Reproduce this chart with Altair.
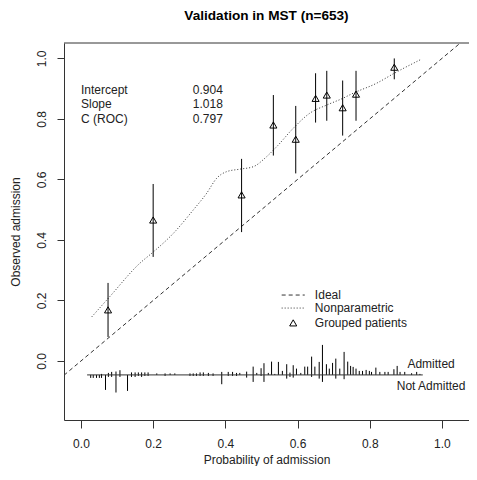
import altair as alt
import pandas as pd

FONT = "Liberation Sans"
INK = "#222222"
LINE = "#333333"

# ---- data ----
grp_x = [0.075, 0.200, 0.445, 0.533, 0.595, 0.650, 0.681, 0.725, 0.762, 0.868]
grp_y = [0.169, 0.466, 0.549, 0.780, 0.733, 0.868, 0.879, 0.837, 0.882, 0.971]
grp_lo = [0.079, 0.344, 0.426, 0.679, 0.620, 0.788, 0.794, 0.745, 0.794, 0.931]
grp_hi = [0.258, 0.585, 0.668, 0.879, 0.843, 0.951, 0.959, 0.927, 0.959, 1.000]

np_x = [0.030, 0.080, 0.163, 0.200, 0.256, 0.311, 0.348, 0.376, 0.404, 0.440,
        0.477, 0.514, 0.542, 0.588, 0.634, 0.681, 0.725, 0.754, 0.819, 0.868, 0.944]
np_y = [0.146, 0.213, 0.323, 0.360, 0.422, 0.499, 0.554, 0.604, 0.626, 0.634,
        0.642, 0.675, 0.708, 0.769, 0.819, 0.846, 0.868, 0.885, 0.918, 0.951, 0.998]

ideal_x = [-0.047, 1.051]
ideal_y = [-0.047, 1.051]

spike_x = [0.027, 0.034, 0.043, 0.051, 0.057, 0.068, 0.076, 0.085, 0.097, 0.108,
           0.129, 0.140, 0.150, 0.159, 0.168, 0.177, 0.186, 0.210, 0.233, 0.247,
           0.260, 0.302, 0.311, 0.320, 0.330, 0.339, 0.353, 0.366, 0.390, 0.408,
           0.420, 0.431, 0.440, 0.459, 0.477, 0.487, 0.499, 0.507, 0.519, 0.528,
           0.537, 0.547, 0.558, 0.570, 0.579, 0.588, 0.597, 0.609, 0.620, 0.628,
           0.639, 0.648, 0.660, 0.669, 0.680, 0.688, 0.697, 0.706, 0.717, 0.729,
           0.739, 0.747, 0.754, 0.762, 0.771, 0.780, 0.790, 0.799, 0.805, 0.817,
           0.828, 0.842, 0.851, 0.867, 0.876, 0.884, 0.897, 0.916, 0.930, 0.939]
spike_up = [0, 0, 0, 0, 1, 0, 2, 3, 3.4, 4.7,
            0, 2.5, 2.5, 2.5, 2.5, 2.5, 2.5, 1.5, 1.5, 1.5,
            1.5, 1.5, 1.5, 1.5, 2.5, 2.5, 2, 1.5, 3, 3,
            3, 2, 2, 3.3, 8.3, 2, 6.7, 11.7, 2, 13.3,
            1, 13, 4, 10.7, 2.3, 9.7, 6.3, 2, 8.3, 8.3,
            18.3, 8.3, 13, 30, 10.7, 6.3, 12, 16.3, 6.3, 23,
            13.3, 9, 8, 6.3, 4, 4, 5, 4, 3, 7.3,
            3, 3, 3, 5.7, 9, 3, 3, 1.7, 3, 1]
spike_dn = [3, 3, 3, 3, 3, 15, 2, 2, 17.6, 2,
            16, 2, 2, 1, 2, 1, 1, 0, 1, 0,
            0, 1, 1, 1, 1, 1, 1, 1, 9.3, 1,
            1, 1, 0, 2.7, 7, 0, 1, 7, 0, 0,
            0, 0, 0, 3.7, 2, 2.7, 0, 0, 0, 0,
            2, 0, 3.7, 7, 0, 0, 0, 3.7, 0, 4.3,
            0, 0, 0, 0, 0, 0, 0, 0, 0, 0,
            0, 0, 0, 0, 0, 0, 0, 0, 0, 0]
SPIKE_UNIT = 1 / 302.5
SPIKE_BASE = -0.046
spike_range = [0.017, 0.947]

stat_labels = ["Intercept", "Slope", "C (ROC)"]
stat_values = ["0.904", "1.018", "0.797"]
stat_y = [0.896, 0.849, 0.800]
STAT_LABEL_X = 0.0
STAT_VALUE_X = 0.31

legend_labels = ["Ideal", "Nonparametric", "Grouped patients"]
legend_y = [0.218, 0.175, 0.126]
LEG_X0, LEG_X1, LEG_TEXT_X = 0.556, 0.620, 0.648

hist_labels = ["Admitted", "Not Admitted"]
hist_label_y = [-0.011, -0.083]
HIST_LABEL_X = 0.97

x_ticks = [0.0, 0.2, 0.4, 0.6, 0.8, 1.0]
y_ticks = [0.0, 0.2, 0.4, 0.6, 0.8, 1.0]

X_DOMAIN = [-0.047, 1.075]
Y_DOMAIN = [-0.195, 1.051]

W, H = 405, 377
xs = alt.Scale(domain=X_DOMAIN, nice=False, zero=False)
ys = alt.Scale(domain=Y_DOMAIN, nice=False, zero=False)

x_axis = alt.Axis(values=x_ticks, format=".1f", title="Probability of admission",
                  grid=False, tickSize=8, labelBaseline="alphabetic", labelPadding=19.5,
                  titleBaseline="alphabetic", titleY=43)
y_axis = alt.Axis(values=y_ticks, format=".1f", title="Observed admission",
                  grid=False, tickSize=7, labelAngle=270, labelAlign="center",
                  labelBaseline="alphabetic", labelPadding=12,
                  titleAngle=270, titleAlign="center", titleBaseline="alphabetic",
                  titleX=-45, titleY=H / 2)

def X(field="x"):
    return alt.X(f"{field}:Q", scale=xs, axis=x_axis)

def Y(field="y"):
    return alt.Y(f"{field}:Q", scale=ys, axis=y_axis)

df_grp = pd.DataFrame({"x": grp_x, "y": grp_y, "lo": grp_lo, "hi": grp_hi})
df_np = pd.DataFrame({"x": np_x, "y": np_y})
df_ideal = pd.DataFrame({"x": ideal_x, "y": ideal_y})
df_sp = pd.DataFrame({
    "x": spike_x,
    "top": [SPIKE_BASE + u * SPIKE_UNIT for u in spike_up],
    "bot": [SPIKE_BASE - d * SPIKE_UNIT for d in spike_dn],
})
df_base = pd.DataFrame({"x": [spike_range[0]], "x2": [spike_range[1]], "y": [SPIKE_BASE]})
df_top = pd.DataFrame({"x": [X_DOMAIN[0]], "x2": [X_DOMAIN[1]], "y": [Y_DOMAIN[1]]})
df_stats = pd.DataFrame({"label": stat_labels, "value": stat_values, "y": stat_y,
                         "lx": [STAT_LABEL_X] * 3, "vx": [STAT_VALUE_X] * 3})
df_leg = pd.DataFrame({"label": legend_labels, "y": legend_y,
                       "x0": [LEG_X0] * 3, "x1": [LEG_X1] * 3, "tx": [LEG_TEXT_X] * 3,
                       "mx": [(LEG_X0 + LEG_X1) / 2] * 3})
df_hist = pd.DataFrame({"label": hist_labels, "y": hist_label_y, "x": [HIST_LABEL_X] * 2})

spikes = alt.Chart(df_sp).mark_rule(color="black", strokeWidth=1).encode(
    x=X(), y=Y("top"), y2="bot:Q")
ideal = alt.Chart(df_ideal).mark_line(color=LINE, strokeWidth=1, strokeDash=[4, 3]).encode(
    x=X(), y=Y())
nonpar = alt.Chart(df_np).mark_line(color=LINE, strokeWidth=1, strokeDash=[1, 2],
                                     interpolate="monotone").encode(x=X(), y=Y())
bars = alt.Chart(df_grp).mark_rule(color="black", strokeWidth=1).encode(
    x=X(), y=Y("lo"), y2="hi:Q")
tri = alt.Chart(df_grp).mark_point(shape="triangle-up", filled=False, color="black",
                                   size=50, strokeWidth=1, opacity=1).encode(x=X(), y=Y())
base = alt.Chart(df_base).mark_rule(color=LINE, strokeWidth=1).encode(
    x=X(), x2="x2:Q", y=Y())
top_border = alt.Chart(df_top).mark_rule(color=LINE, strokeWidth=1).encode(
    x=X(), x2="x2:Q", y=Y())

txt = dict(font=FONT, fontSize=12, color=INK, baseline="middle")
stat_lab = alt.Chart(df_stats).mark_text(align="left", **txt).encode(
    x=X("lx"), y=Y(), text="label:N")
stat_val = alt.Chart(df_stats).mark_text(align="left", **txt).encode(
    x=X("vx"), y=Y(), text="value:N")
leg_text = alt.Chart(df_leg).mark_text(align="left", **txt).encode(
    x=X("tx"), y=Y(), text="label:N")
leg_dash = alt.Chart(df_leg.iloc[[0]]).mark_rule(color=LINE, strokeWidth=1, strokeDash=[4, 3]).encode(
    x=X("x0"), x2="x1:Q", y=Y())
leg_dot = alt.Chart(df_leg.iloc[[1]]).mark_rule(color=LINE, strokeWidth=1, strokeDash=[1, 2]).encode(
    x=X("x0"), x2="x1:Q", y=Y())
leg_tri = alt.Chart(df_leg.iloc[[2]]).mark_point(shape="triangle-up", filled=False, color="black",
                                                 size=50, strokeWidth=1, opacity=1).encode(
    x=X("mx"), y=Y())
hist_text = alt.Chart(df_hist).mark_text(align="center", **txt).encode(
    x=X(), y=Y(), text="label:N")

chart = alt.layer(
    spikes, ideal, nonpar, bars, tri, base, top_border, stat_lab, stat_val,
    leg_text, leg_dash, leg_dot, leg_tri, hist_text
).properties(
    width=W, height=H,
    title=alt.TitleParams("Validation in MST (n=653)", font=FONT, fontSize=13.6,
                          fontWeight="bold", color="black", anchor="middle", offset=18),
    autosize=alt.AutoSizeParams(type="none"),
    padding={"left": 56, "top": 35, "right": 0, "bottom": 46},
).configure_view(stroke=None).configure_axis(
    labelFont=FONT, labelFontSize=12, labelColor=INK, labelFlush=False, labelOverlap=False,
    titleFont=FONT, titleFontSize=12, titleFontWeight="normal", titleColor=INK,
    domainColor=LINE, tickColor=LINE,
)

chart.save("out.html", embed_options={"renderer": "svg", "actions": False})
